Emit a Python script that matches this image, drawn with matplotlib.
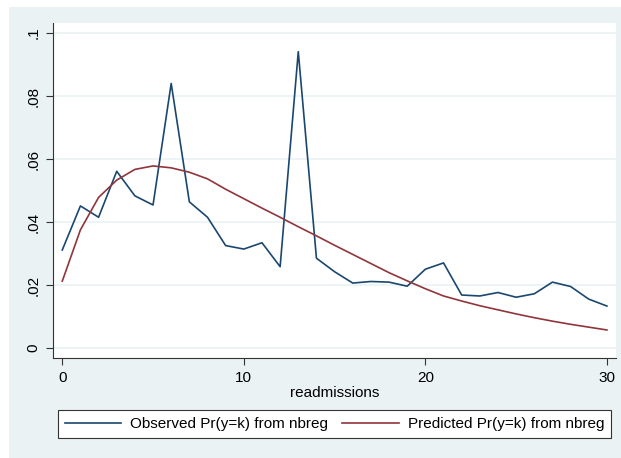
import matplotlib
matplotlib.use("Agg")
import matplotlib.pyplot as plt
from matplotlib.patches import Rectangle

k = list(range(31))
observed = [0.0311, 0.0451, 0.0415, 0.0561, 0.0483, 0.0454, 0.0840, 0.0464, 0.0415,
            0.0325, 0.0314, 0.0334, 0.0258, 0.0941, 0.0285, 0.0242, 0.0206, 0.0211,
            0.0209, 0.0196, 0.0250, 0.0270, 0.0168, 0.0165, 0.0176, 0.0161, 0.0172,
            0.0209, 0.0195, 0.0155, 0.0133]
predicted = [0.0212, 0.0375, 0.0478, 0.0533, 0.0567, 0.0578, 0.0572, 0.0558, 0.0537,
             0.0504, 0.0474, 0.0444, 0.0415, 0.0385, 0.0356, 0.0326, 0.0297, 0.0268,
             0.0239, 0.0213, 0.0188, 0.0165, 0.0149, 0.0134, 0.0121, 0.0108, 0.0096,
             0.0085, 0.0075, 0.0066, 0.0057]
xticks = [0, 10, 20, 30]
yticks = [0, 0.02, 0.04, 0.06, 0.08, 0.1]
ytick_labels = ["0", ".02", ".04", ".06", ".08", ".1"]
xlabel = "readmissions"
legend_labels = ["Observed Pr(y=k) from nbreg", "Predicted Pr(y=k) from nbreg"]

plt.rcParams['font.family'] = ['Liberation Sans', 'DejaVu Sans']
W, H = 621, 458
fig = plt.figure(figsize=(W / 100, H / 100), dpi=100, facecolor='white')
bg = '#eaf2f3'
fig.patches.append(Rectangle((9 / W, 0), 1 - 9 / W, 1 - 7 / H, transform=fig.transFigure,
                             facecolor=bg, edgecolor='none', zorder=-10))

ax = fig.add_axes([53 / W, 1 - 358 / H, (616 - 53) / W, (358 - 23) / H])
ax.set_zorder(1)
ax.set_facecolor('white')
blue = '#1a476f'
red = '#90353b'
l1, = ax.plot(k, observed, color=blue, lw=1.2, zorder=3)
l2, = ax.plot(k, predicted, color=red, lw=1.2, zorder=3)

ax.set_xlim(-0.51, 30.5)
ax.set_ylim(-0.0032, 0.1032)
ax.set_xticks(xticks)
ax.set_yticks(yticks)
ax.set_yticklabels(ytick_labels, rotation=90, va='center')
ax.tick_params(axis='both', direction='out', length=5, width=0.8, color='#333333',
               labelsize=11, labelcolor='black')
ax.tick_params(axis='y', pad=4)
ax.tick_params(axis='x', pad=4)
ax.yaxis.grid(True, color=bg, lw=1.2)
ax.set_axisbelow(True)
for s in ['top', 'right']:
    ax.spines[s].set_visible(False)
for s in ['left', 'bottom']:
    ax.spines[s].set_color('#333333')
    ax.spines[s].set_linewidth(0.8)
ax.set_xlabel(xlabel, fontsize=11, labelpad=1)

leg = fig.legend([l1, l2], legend_labels, ncol=2, loc='center',
                 bbox_to_anchor=((58 + 611) / 2 / W, 1 - 424 / H),
                 fontsize=11, frameon=True, fancybox=False, edgecolor='#333333',
                 facecolor='white', framealpha=1, handlelength=3.7, handletextpad=0.6,
                 columnspacing=0.9, borderpad=0.45)
leg.get_frame().set_linewidth(0.8)
leg.set_zorder(2)

fig.savefig('out.png', dpi=100, facecolor=fig.get_facecolor())
